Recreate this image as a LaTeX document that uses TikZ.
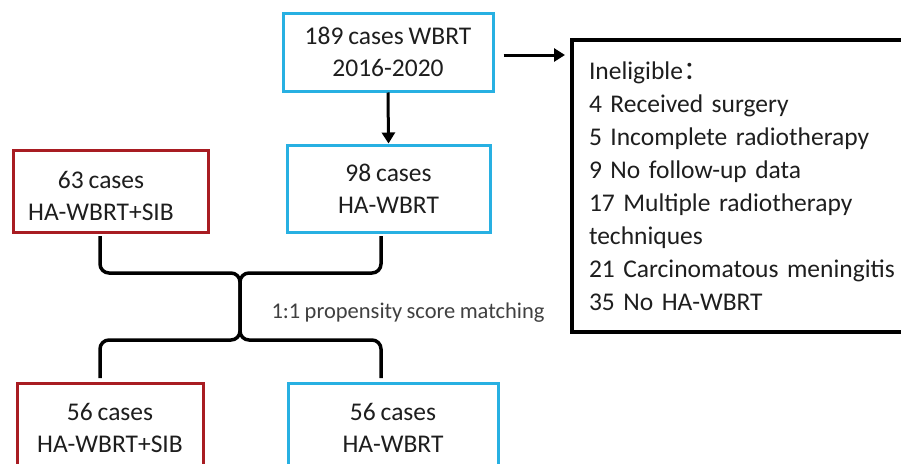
\documentclass[tikz,border=0pt]{standalone}
\usepackage{fontspec}
\setmainfont[WordSpace=0.85]{Carlito}
\newfontfamily\cjk{Noto Sans CJK SC}
\usetikzlibrary{arrows.meta}
\definecolor{boxblue}{RGB}{40,176,226}
\definecolor{boxred}{RGB}{168,28,34}
\definecolor{txt}{RGB}{30,30,30}
\newcommand\tightspace{\spaceskip=0.17em plus 0.05em minus 0.02em\relax}
\tikzset{
  bluebox/.style={draw=boxblue, line width=3pt, align=center, text=txt, inner sep=0pt,
    font=\fontsize{25.5}{32}\selectfont},
  redbox/.style={draw=boxred, line width=3pt, align=center, text=txt, inner sep=0pt,
    font=\fontsize{25.5}{32}\selectfont},
  blackbox/.style={draw=black, line width=4pt, align=left, text=txt, inner xsep=17pt, inner ysep=0pt,
    font=\fontsize{25.5}{33}\selectfont\tightspace},
  arr/.style={line width=3pt, -{Triangle[length=11pt,width=13pt]}},
  brace/.style={line width=3.5pt, rounded corners=9pt},
}
\begin{document}
\begin{tikzpicture}[x=1pt,y=-1pt]
\clip (0,0) rectangle (901,463);
\fill[white] (0,0) rectangle (901,463);
% boxes
\node[bluebox, minimum width=210pt, minimum height=78pt] (top) at (388,52) {189 cases WBRT\\2016-2020};
\node[bluebox, minimum width=203pt, minimum height=87pt] (mid) at (388.5,188.5) {98 cases\\HA-WBRT};
\node[redbox, minimum width=195pt, minimum height=82pt] (sib) at (110.5,191) {};
\node[text=txt, align=center, font=\fontsize{25.5}{32}\selectfont] (sibtext) at (101,196) {63 cases\\HA-WBRT+SIB};
\node[redbox, minimum width=186pt, minimum height=90pt] (bsib) at (110,428) {56 cases\\HA-WBRT+SIB};
\node[bluebox, minimum width=210pt, minimum height=90pt] (bha) at (393,428) {56 cases\\HA-WBRT};
\node[blackbox, text width=330pt, minimum height=292pt, anchor=north west] (inel) at (570,38)
  {Ineligible{\cjk ：}\\
   4 Received surgery\\
   5 Incomplete radiotherapy\\
   9 No follow-up data\\
   17 Multiple radiotherapy\\
   techniques\\
   21 Carcinomatous meningitis\\
   35 No HA-WBRT};
\node[text=txt!85, anchor=west, font=\fontsize{22.5}{26}\selectfont] (psm) at (268,313) {1:1 propensity score matching};
% arrows
\draw[arr, shorten <=9pt, shorten >=5pt] (top.east |- 0,55) -- (inel.west |- 0,55);
\draw[arr] (top.south) -- (mid.north);
% brace connectors
\coordinate (la) at (100,236);
\coordinate (ra) at (381,236);
\coordinate (lb) at (100,378);
\coordinate (rb) at (381,378);
\draw[brace] (la) -- (100,273) -- (240,273) -- (240,340) -- (100,340) -- (lb);
\draw[brace] (ra) -- (381,273) -- (240,273) -- (240,340) -- (381,340) -- (rb);
\end{tikzpicture}
\end{document}
